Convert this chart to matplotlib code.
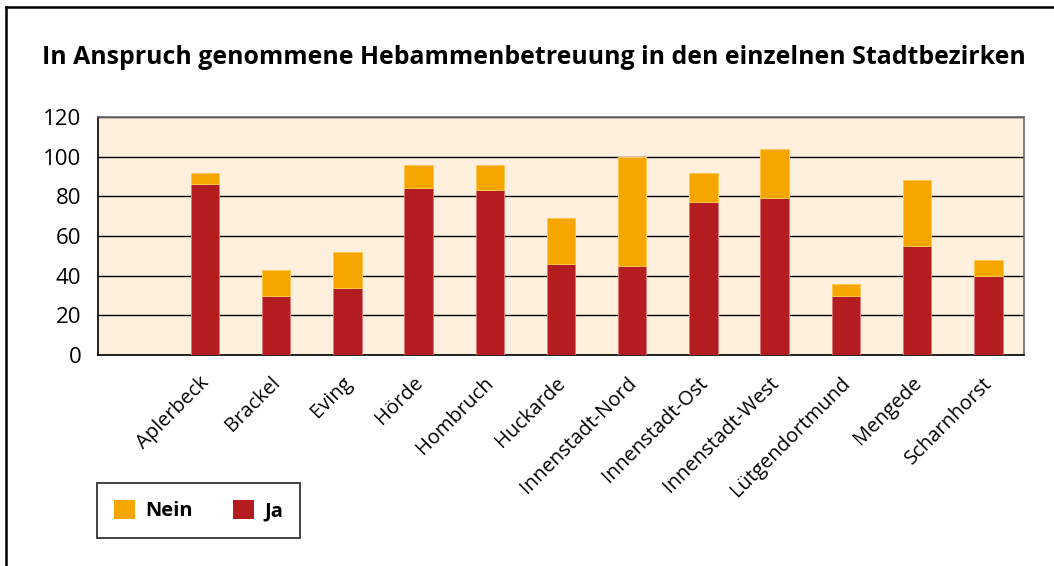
import matplotlib
matplotlib.use("Agg")
import matplotlib.pyplot as plt
from matplotlib.patches import Patch
from matplotlib.lines import Line2D
from matplotlib.transforms import ScaledTranslation

districts = ["", "Aplerbeck", "Brackel", "Eving", "Hörde", "Hombruch", "Huckarde",
             "Innenstadt-Nord", "Innenstadt-Ost", "Innenstadt-West",
             "Lütgendortmund", "Mengede", "Scharnhorst"]
ja = [0, 86, 30, 34, 84, 83, 46, 45, 77, 79, 30, 55, 40]
total = [0, 92, 43, 52, 96, 96, 69, 100, 92, 104, 36, 88, 48]
nein = [t - j for t, j in zip(total, ja)]
yticks = [0, 20, 40, 60, 80, 100, 120]
title = "In Anspruch genommene Hebammenbetreuung in den einzelnen Stadtbezirken"

FONT = "Open Sans"
RED = "#B51C1F"
ORANGE = "#F7A600"
BG = "#FEF0DC"

W, H = 1054, 566
fig = plt.figure(figsize=(W / 100, H / 100), dpi=100)
fig.patch.set_facecolor("white")

ax = fig.add_axes([98 / W, 1 - 355 / H, (1024 - 98) / W, (355 - 117) / H])
ax.set_facecolor(BG)

x = list(range(len(districts)))
ax.bar(x, ja, width=0.4, color=RED, edgecolor="#E07A7A", linewidth=0.7, zorder=3)
ax.bar(x, nein, bottom=ja, width=0.4, color=ORANGE, edgecolor="#FFC850", linewidth=0.7, zorder=3)

ax.set_xlim(-0.5, len(districts) - 0.5)
ax.set_ylim(0, 120)
ax.set_yticks(yticks)
ax.set_yticklabels([str(v) for v in yticks], fontfamily=FONT, fontsize=16)
ax.yaxis.grid(True, color="black", linewidth=1.0, zorder=1)
ax.set_axisbelow(True)
ax.tick_params(axis="y", length=0, pad=12)
ax.set_xticks(x)
ax.set_xticklabels(districts, rotation=45, ha="right", fontfamily=FONT, fontsize=14.5)
ax.tick_params(axis="x", length=0, pad=13)
shift = ScaledTranslation(6 / 72, 0, fig.dpi_scale_trans)
for lab in ax.get_xticklabels():
    lab.set_transform(lab.get_transform() + shift)

for s in ["left", "bottom"]:
    ax.spines[s].set_color("black")
    ax.spines[s].set_linewidth(1.2)
for s in ["top", "right"]:
    ax.spines[s].set_color("#6a6a6a")
    ax.spines[s].set_linewidth(1.2)

# title, fitted to the reference width
t = fig.text(534 / W, 1 - 57 / H, title, ha="center", va="center",
             fontfamily=FONT, fontweight="bold", fontsize=16)
fig.canvas.draw()
r = fig.canvas.get_renderer()
bw = t.get_window_extent(r).width
t.set_fontsize(16 * 985 / bw)

handles = [Patch(facecolor=ORANGE, edgecolor="none", label="Nein"),
           Patch(facecolor=RED, edgecolor="none", label="Ja")]
leg = fig.legend(handles=handles, loc="upper left", bbox_to_anchor=(97 / W, 1 - 483 / H),
                 ncol=2, frameon=True, fancybox=False, edgecolor="black",
                 prop={"family": FONT, "weight": "bold", "size": 14.5},
                 handlelength=1.05, handleheight=1.05, handletextpad=0.5,
                 columnspacing=2.0, borderpad=0.85, borderaxespad=0)
leg.get_frame().set_linewidth(1.3)

# outer frame (top and left)
fig.add_artist(Line2D([6 / W, 1.0], [1 - 7 / H, 1 - 7 / H], color="black", linewidth=1.8, transform=fig.transFigure))
fig.add_artist(Line2D([6 / W, 6 / W], [0, 1 - 7 / H], color="black", linewidth=1.8, transform=fig.transFigure))

fig.savefig("out.png", dpi=100)
